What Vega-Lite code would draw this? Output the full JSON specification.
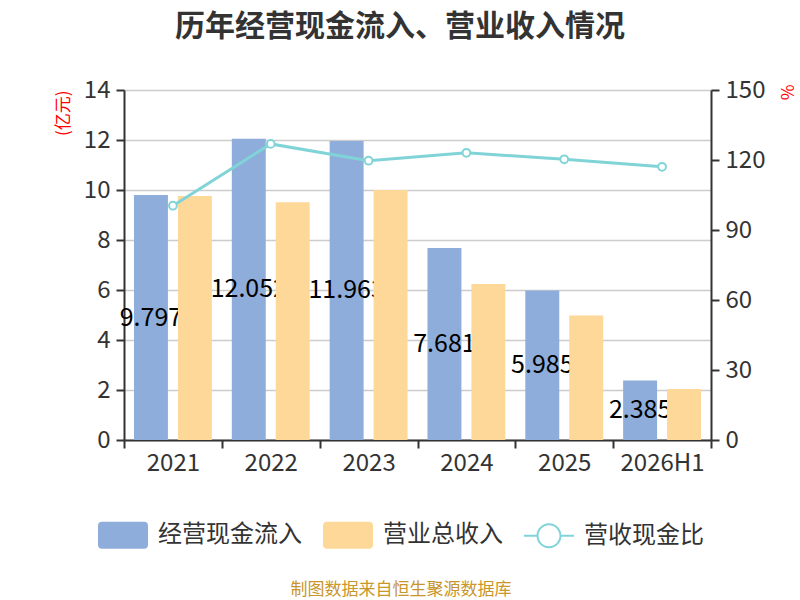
{
  "$schema": "https://vega.github.io/schema/vega-lite/v6.json",
  "width": 587,
  "height": 350,
  "autosize": "none",
  "padding": {"left": 124, "top": 90, "right": 89, "bottom": 160},
  "background": "white",
  "title": {
    "text": "历年经营现金流入、营业收入情况",
    "anchor": "middle",
    "frame": "group",
    "dx": -17.5,
    "offset": 36,
    "fontSize": 30,
    "fontWeight": "bold",
    "color": "#333333"
  },
  "datasets": {
    "bars": [
      {"year": "2021", "series": "经营现金流入", "value": 9.797},
      {"year": "2021", "series": "营业总收入", "value": 9.76},
      {"year": "2022", "series": "经营现金流入", "value": 12.052},
      {"year": "2022", "series": "营业总收入", "value": 9.51},
      {"year": "2023", "series": "经营现金流入", "value": 11.963},
      {"year": "2023", "series": "营业总收入", "value": 10.0},
      {"year": "2024", "series": "经营现金流入", "value": 7.681},
      {"year": "2024", "series": "营业总收入", "value": 6.24},
      {"year": "2025", "series": "经营现金流入", "value": 5.985},
      {"year": "2025", "series": "营业总收入", "value": 4.98},
      {"year": "2026H1", "series": "经营现金流入", "value": 2.385},
      {"year": "2026H1", "series": "营业总收入", "value": 2.04}
    ],
    "ratio": [
      {"year": "2021", "ratio": 100.4},
      {"year": "2022", "ratio": 126.9},
      {"year": "2023", "ratio": 119.7},
      {"year": "2024", "ratio": 123.1},
      {"year": "2025", "ratio": 120.3},
      {"year": "2026H1", "ratio": 117.1}
    ]
  },
  "config": {
    "font": "Noto Sans CJK SC",
    "view": {"stroke": null},
    "axis": {
      "domainColor": "#333333",
      "domainWidth": 2,
      "tickColor": "#333333",
      "tickWidth": 2,
      "tickSize": 8,
      "labelFontSize": 24,
      "labelColor": "#333333",
      "labelFont": "Noto Sans CJK SC",
      "gridColor": "#cccccc",
      "gridWidth": 1.5
    }
  },
  "layer": [
    {
      "data": {"name": "bars"},
      "transform": [{"filter": "datum.series === '经营现金流入'"}],
      "mark": {"type": "bar", "color": "#8eaddb"},
      "encoding": {
        "x": {
          "field": "year",
          "type": "nominal",
          "sort": null,
          "title": null,
          "scale": {"paddingInner": 0, "paddingOuter": 0},
          "axis": {"labelAngle": 0, "tickBand": "extent", "labelPadding": 3, "grid": false}
        },
        "xOffset": {
          "field": "series",
          "type": "nominal",
          "scale": {"domain": ["经营现金流入", "营业总收入"], "paddingInner": 0.227, "paddingOuter": 0.227}
        },
        "y": {
          "field": "value",
          "type": "quantitative",
          "scale": {"domain": [0, 14], "nice": false},
          "axis": {
            "orient": "left",
            "values": [0, 2, 4, 6, 8, 10, 12, 14],
            "grid": true,
            "labelPadding": 6,
            "title": "(亿元)",
            "titleColor": "red",
            "titleFontSize": 17,
            "titleFontWeight": "normal",
            "titleAnchor": "end",
            "titlePadding": 11
          }
        },
        "color": {
          "field": "series",
          "type": "nominal",
          "scale": {
            "domain": ["经营现金流入", "营业总收入", "营收现金比"],
            "range": ["#8eaddb", "#fed899", "#80d4d7"]
          },
          "legend": {
            "orient": "none",
            "legendX": -26,
            "legendY": 420,
            "direction": "horizontal",
            "padding": 0,
            "symbolSize": 2500,
            "symbolStrokeWidth": 0,
            "labelFontSize": 24,
            "labelColor": "#333333",
            "labelOffset": 10,
            "columnPadding": 21,
            "title": "制图数据来自恒生聚源数据库",
            "titleOrient": "bottom",
            "titleAnchor": "middle",
            "titleFontSize": 17,
            "titleFontWeight": "normal",
            "titleColor": "#c9962b",
            "titlePadding": 33,
            "titleLimit": 600,
            "encode": {
              "symbols": {
                "update": {
                  "shape": {"signal": "datum.value === '营收现金比' ? 'M-1,-0.04H-0.5V0.04H-1ZM0.5,-0.04H1V0.04H0.5ZM-0.5,0A0.5,0.5 0 1 1 0.5,0A0.5,0.5 0 1 1 -0.5,0ZM-0.42,0A0.42,0.42 0 1 0 0.42,0A0.42,0.42 0 1 0 -0.42,0Z' : 'M-0.84,-0.54H0.84Q1,-0.54 1,-0.38V0.38Q1,0.54 0.84,0.54H-0.84Q-1,0.54 -1,0.38V-0.38Q-1,-0.54 -0.84,-0.54Z'"},
                  "opacity": {"value": 1}
                }
              }
            }
          }
        }
      }
    },
    {
      "data": {"name": "bars"},
      "transform": [{"filter": "datum.series === '经营现金流入'"}],
      "mark": {"type": "text", "color": "black", "fontSize": 25, "baseline": "middle", "align": "center"},
      "encoding": {
        "x": {"field": "year", "type": "nominal", "sort": null, "title": null},
        "xOffset": {"field": "series", "type": "nominal"},
        "y": {"field": "value", "type": "quantitative", "scale": {"domain": [0, 28], "nice": false}, "axis": null},
        "text": {"field": "value", "type": "quantitative", "format": ".3f"}
      }
    },
    {
      "data": {"name": "bars"},
      "transform": [{"filter": "datum.series === '营业总收入'"}],
      "mark": {"type": "bar"},
      "encoding": {
        "x": {"field": "year", "type": "nominal", "sort": null, "title": null},
        "xOffset": {"field": "series", "type": "nominal"},
        "y": {"field": "value", "type": "quantitative", "scale": {"domain": [0, 14], "nice": false}, "axis": null},
        "color": {"field": "series", "type": "nominal"}
      }
    },
    {
      "data": {"name": "ratio"},
      "mark": {"type": "line", "color": "#80d4d7", "strokeWidth": 3},
      "encoding": {
        "x": {"field": "year", "type": "nominal", "sort": null, "title": null},
        "y": {
          "field": "ratio",
          "type": "quantitative",
          "scale": {"domain": [0, 150], "nice": false},
          "axis": {
            "orient": "right",
            "values": [0, 30, 60, 90, 120, 150],
            "grid": false,
            "labelPadding": 6,
            "title": "%",
            "titleColor": "red",
            "titleFontSize": 17,
            "titleFontWeight": "normal",
            "titleAnchor": "end",
            "titleAlign": "left",
            "titleY": -6,
            "titlePadding": 12
          }
        }
      }
    },
    {
      "data": {"name": "ratio"},
      "mark": {"type": "point", "filled": false, "fill": "white", "stroke": "#80d4d7", "strokeWidth": 2, "size": 60, "opacity": 1},
      "encoding": {
        "x": {"field": "year", "type": "nominal", "sort": null, "title": null},
        "y": {"field": "ratio", "type": "quantitative", "scale": {"domain": [0, 150], "nice": false}, "axis": null}
      }
    }
  ],
  "resolve": {"scale": {"y": "independent"}}
}
